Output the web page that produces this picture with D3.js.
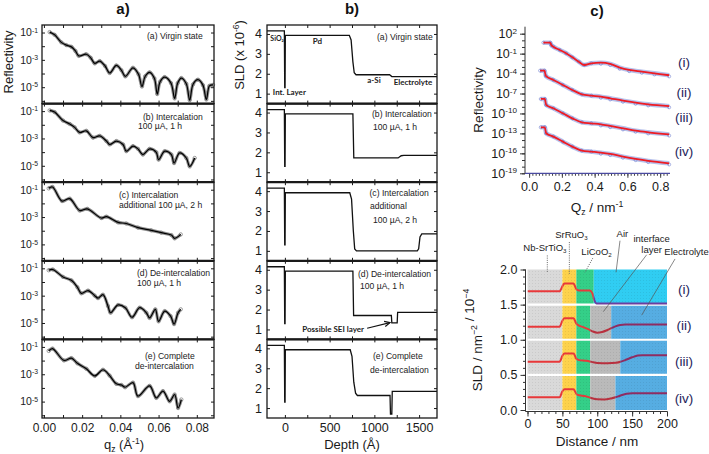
<!DOCTYPE html>
<html><head><meta charset="utf-8">
<script src="https://cdn.jsdelivr.net/npm/d3@7/dist/d3.min.js"></script>
<style>
html,body{margin:0;padding:0;background:#fff;}
svg{display:block;font-family:"Liberation Sans",Arial,sans-serif;}
</style></head><body>
<svg id="fig" width="709" height="454"></svg>
<script>
// ================= DATA =================
// Panel a: neutron reflectivity, [qz (1/A), log10 R]
const qzDomainA = [-0.001, 0.089];
const qzTicksA = [0, 0.01, 0.02, 0.03, 0.04, 0.05, 0.06, 0.07, 0.08];
const qzLabelsA = [0, 0.02, 0.04, 0.06, 0.08];
const reflDomainA = [-6.2, -0.45];
const reflDecadesA = [-6, -5, -4, -3, -2, -1];
const reflLabelDecadesA = [-1, -3, -5];
const reflVirgin = [[0.0030,-0.97],[0.0056,-1.17],[0.0091,-1.72],[0.0117,-1.92],[0.0144,-2.05],[0.0165,-2.35],[0.0182,-2.71],[0.0222,-2.59],[0.0245,-2.85],[0.0266,-3.26],[0.0292,-3.09],[0.0320,-3.45],[0.0344,-3.96],[0.0379,-3.41],[0.0405,-3.75],[0.0426,-4.21],[0.0466,-3.58],[0.0495,-4.05],[0.0513,-4.95],[0.0530,-4.2],[0.0553,-3.91],[0.0578,-4.35],[0.0593,-5.50],[0.0608,-4.6],[0.0632,-4.26],[0.0665,-4.7],[0.0684,-5.82],[0.0700,-4.7],[0.0719,-4.33],[0.0745,-4.75],[0.0763,-5.95],[0.0780,-4.8],[0.0806,-4.45],[0.0832,-4.85],[0.0850,-5.90],[0.0866,-4.9],[0.0885,-4.83]];
const reflInter1 = [[0.0030,-0.95],[0.0056,-1.07],[0.0100,-1.69],[0.0135,-1.94],[0.0161,-2.19],[0.0187,-2.56],[0.0222,-2.44],[0.0257,-2.94],[0.0292,-2.81],[0.0327,-3.19],[0.0344,-3.44],[0.0379,-3.19],[0.0414,-3.44],[0.0431,-3.93],[0.0466,-3.56],[0.0492,-3.76],[0.0518,-4.18],[0.0553,-3.76],[0.0588,-4.01],[0.0600,-4.55],[0.0632,-3.93],[0.0667,-4.18],[0.0681,-4.80],[0.0710,-4.06],[0.0745,-4.43],[0.0763,-5.05],[0.0789,-4.43]];
const reflInter2 = [[0.0025,-0.90],[0.0045,-0.80],[0.0095,-1.83],[0.0135,-1.65],[0.0187,-2.52],[0.0227,-2.40],[0.0300,-3.07],[0.0327,-2.97],[0.0388,-3.39],[0.0431,-3.47],[0.0492,-3.77],[0.0562,-3.97],[0.0614,-4.14],[0.0667,-4.32],[0.0684,-4.56],[0.0716,-4.27]];
const reflDeinter = [[0.0025,-1.14],[0.0047,-1.09],[0.0100,-1.63],[0.0144,-1.88],[0.0175,-2.38],[0.0196,-2.83],[0.0231,-2.63],[0.0266,-3.00],[0.0283,-3.18],[0.0309,-2.93],[0.0335,-3.75],[0.0349,-4.25],[0.0388,-3.68],[0.0426,-3.88],[0.0461,-4.58],[0.0501,-3.88],[0.0536,-4.25],[0.0553,-4.63],[0.0583,-4.00],[0.0600,-4.88],[0.0632,-4.13],[0.0663,-4.50],[0.0681,-5.08],[0.0702,-4.25],[0.0716,-4.00]];
const reflComplete = [[0.0025,-1.29],[0.0045,-1.12],[0.0105,-1.99],[0.0144,-1.82],[0.0175,-2.2],[0.0222,-2.6],[0.0266,-3.12],[0.0309,-2.67],[0.0344,-3.1],[0.0379,-3.7],[0.0405,-3.78],[0.0425,-3.95],[0.0466,-3.61],[0.0492,-4.60],[0.0553,-3.85],[0.0588,-4.73],[0.0623,-4.23],[0.0658,-4.98],[0.0684,-4.48],[0.0702,-5.47],[0.0719,-4.85]];
const statesA = [["(a) Virgin state"],["(b) Intercalation","100 µA, 1 h"],["(c) Intercalation","additional 100 µA, 2 h"],["(d) De-intercalation","100 µA, 1 h"],["(e) Complete","de-intercalation"]];

// Panel b: SLD profiles, [depth (A), SLD x1e-6]
const depthDomain = [-200, 1700];
const depthTicks = [0, 250, 500, 750, 1000, 1250, 1500];
const depthLabels = [0, 500, 1000, 1500];
const sldDomainB = [0.5, 4.45];
const sldTicksB = [1, 2, 3, 4];
const sldVirgin = [[-200,4.15],[-6,4.15],[-2,1.3],[2,1.3],[5,3.93],[720,3.93],[740,3.7],[760,2.6],[775,2.05],[795,1.95],[1170,1.95],[1195,1.86],[1700,1.86]];
const sldInter1 = [[-200,4.15],[-6,4.15],[-2,1.3],[2,1.3],[5,3.93],[760,3.93],[770,1.72],[1265,1.72],[1300,1.83],[1330,1.85],[1700,1.85]];
const sldInter2 = [[-200,4.15],[-6,4.15],[-2,1.3],[2,1.3],[5,3.92],[725,3.92],[745,3.6],[765,2.0],[780,1.1],[800,1.0],[1480,1.0],[1495,1.1],[1510,1.7],[1530,1.85],[1700,1.85]];
const sldDeinter = [[-200,4.15],[-6,4.15],[-2,1.3],[2,1.3],[5,3.93],[760,3.93],[768,1.70],[1190,1.70],[1195,1.33],[1255,1.33],[1260,1.86],[1700,1.86]];
const sldComplete = [[-200,4.15],[-6,4.15],[-2,1.3],[2,1.3],[5,3.93],[730,3.93],[750,3.6],[770,2.3],[790,1.75],[810,1.63],[1175,1.63],[1180,0.7],[1195,0.7],[1200,1.84],[1700,1.84]];
const statesB = [["(a) Virgin state"],["(b) Intercalation","100 µA, 1 h"],["(c) Intercalation","additional"," 100 µA, 2 h"],["(d) De-intercalation","100 µA, 1 h"],["(e) Complete","de-intercalation"]];
const layerNotesB = [["SiO₂",-87,3.78],["Pd",362,3.66],["Int. Layer",50,1.07],["a-Si",996,1.69],["Electrolyte",1431,1.6]];
const seiNote = {text:"Possible SEI layer", at:[539,1.01], from:[919,1.06], to:[1174,1.34]};

// Panel c (top): reflectivity, [Qz (1/nm), log10 R]
const qzDomainC = [-0.025, 0.86];
const qzLabelsC = [0, 0.2, 0.4, 0.6, 0.8];
const reflDomainC = [-19, 3.05];
const reflLabelDecadesC = [2, -1, -4, -7, -10, -13, -16, -19];
const curveNamesC = ["(i)", "(ii)", "(iii)", "(iv)"];
const reflI = [[0.087,0.65],[0.129,0.65],[0.135,0.3],[0.148,0.05],[0.187,-0.45],[0.226,-0.95],[0.264,-1.55],[0.303,-2.21],[0.337,-2.71],[0.380,-2.46],[0.438,-2.36],[0.495,-2.55],[0.553,-3.11],[0.611,-3.46],[0.688,-3.71],[0.765,-3.96],[0.855,-4.25]];
const reflII = [[0.067,-3.56],[0.094,-3.56],[0.102,-4.36],[0.148,-4.96],[0.206,-5.71],[0.264,-6.47],[0.322,-7.12],[0.380,-7.32],[0.438,-7.47],[0.495,-7.72],[0.573,-8.07],[0.650,-8.37],[0.727,-8.62],[0.855,-8.9]];
const reflIII = [[0.071,-7.82],[0.096,-7.82],[0.104,-8.72],[0.148,-9.22],[0.206,-9.97],[0.264,-10.73],[0.322,-11.33],[0.380,-11.48],[0.438,-11.63],[0.495,-11.88],[0.573,-12.23],[0.650,-12.58],[0.727,-12.83],[0.855,-13.15]];
const reflIV = [[0.071,-12.08],[0.096,-12.08],[0.104,-12.98],[0.148,-13.48],[0.206,-14.24],[0.264,-14.99],[0.322,-15.59],[0.380,-15.74],[0.438,-15.89],[0.495,-16.09],[0.573,-16.49],[0.650,-16.84],[0.727,-17.14],[0.855,-17.5]];
const labelLogC = [-2.3, -6.7, -10.55, -15.6];

// Panel c (bottom): SLD profiles, [distance (nm), SLD + offset]
const distTicks = [0, 50, 100, 150, 200];
const sldTicksD = [0, 0.5, 1.0, 1.5, 2.0];
const bandRanges = [[1.5,2.0],[1.0,1.5],[0.5,1.0],[0.0,0.5]];
const bandLayers = [
  [["sub",0,50],["sro",50,70],["lco",70,95],["air",95,200]],
  [["sub",0,50],["sro",50,70],["lco",70,90],["int",90,120],["ele",120,200]],
  [["sub",0,50],["sro",50,70],["lco",70,90],["int",90,133],["ele",133,200]],
  [["sub",0,50],["sro",50,70],["lco",70,90],["int",90,126],["ele",126,200]]];
const profI = [[0,1.69],[46,1.69],[50,1.76],[53,1.80],[66,1.80],[70,1.72],[74,1.70],[89,1.70],[93,1.66],[96,1.56],[99,1.515],[200,1.515]];
const profII = [[0,1.185],[46,1.185],[50,1.27],[53,1.305],[66,1.305],[70,1.23],[74,1.20],[80,1.18],[87,1.15],[93,1.12],[100,1.10],[107,1.11],[116,1.145],[126,1.19],[133,1.21],[140,1.218],[200,1.218]];
const profIII = [[0,0.687],[46,0.687],[50,0.77],[53,0.805],[66,0.805],[70,0.73],[74,0.71],[85,0.70],[92,0.685],[100,0.67],[115,0.665],[127,0.672],[140,0.71],[150,0.75],[158,0.775],[165,0.78],[200,0.78]];
const profIV = [[0,0.18],[46,0.18],[50,0.265],[53,0.295],[66,0.295],[70,0.23],[74,0.21],[82,0.20],[90,0.175],[100,0.152],[110,0.15],[120,0.165],[132,0.20],[142,0.232],[150,0.237],[200,0.237]];
const labelSldD = [1.72, 1.21, 0.70, 0.17];
const layerNotesD = [
  {t:[["Nb-SrTiO","3"]], at:[25,2.27], from:[28.4,2.20], to:[28.4,1.95], dot:true},
  {t:[["SrRuO","3"]], at:[63,2.45], from:[60,2.39], to:[60,1.94], dot:true},
  {t:[["LiCoO","2"]], at:[99,2.21], from:[93.5,2.16], to:[82.4,1.96], dot:true},
  {t:[["Air",""]], at:[136,2.46], from:[132.6,2.41], to:[126.9,1.96], dot:false},
  {t:[["interface",""],["layer",""]], at:[178,2.39], from:[170.9,2.21], to:[108.7,1.40], dot:false},
  {t:[["Electrolyte",""]], at:[228,2.20], from:[211.5,2.15], to:[163.7,1.35], dot:false}];

// ================= DRAWING =================
const svg = d3.select("#fig");
const INK = "#1a1a1a";

function sup(sel, parts) {
  sel.text(null);
  parts.forEach(([t,k]) => {
    const ts = sel.append("tspan").text(t);
    if (k === "sup") ts.attr("font-size","65%").attr("dy","-0.55em");
    if (k === "sub") ts.attr("font-size","65%").attr("dy","0.35em");
    if (k === "back") ts.attr("dy","0.35em");
    if (k === "back2") ts.attr("dy","-0.22em");
  });
}
function cleanAxis(g, color) {
  g.attr("font-family", null).attr("font-size", null);
  g.selectAll(".tick line").attr("stroke", color);
  g.selectAll(".domain").remove();
  g.selectAll(".tick text").attr("fill", INK);
}

[["a)",123],["b)",352],["c)",597]].forEach(([t,x],i)=>{
  svg.append("text").attr("x",x).attr("y",i<2?14:16).attr("text-anchor","middle")
    .attr("font-size",15).attr("font-weight","bold").attr("fill","#111").text(t);
});

// ---------- Panel a ----------
const PA = {x0:42, x1:214, top:25, bottom:418};
const subH = (PA.bottom - PA.top) / 5;
const xA = d3.scaleLinear().domain(qzDomainA).range([PA.x0, PA.x1]);
[reflVirgin, reflInter1, reflInter2, reflDeinter, reflComplete].forEach((data, i) => {
  const top = PA.top + i*subH, bot = top + subH;
  const y = d3.scaleLog().domain(reflDomainA.map(e => 10**e)).range([bot, top]);
  const g = svg.append("g");
  const line = d3.line().x(d => xA(d[0])).y(d => y(10**d[1])).curve(d3.curveCatmullRom.alpha(0.5));
  g.append("path").datum(data).attr("d", line).attr("fill","none").attr("stroke","#444").attr("stroke-width",3.2).attr("stroke-opacity",0.6);
  g.selectAll("circle").data(data).join("circle").attr("cx", d => xA(d[0])).attr("cy", d => y(10**d[1]))
    .attr("r",1.7).attr("fill","none").attr("stroke","#777").attr("stroke-width",0.7);
  g.append("path").datum(data).attr("d", line).attr("fill","none").attr("stroke","#000").attr("stroke-width",1.2);
  const decs = reflDecadesA.map(e => 10**e);
  const gl = g.append("g").attr("transform",`translate(${PA.x0},0)`)
    .call(d3.axisLeft(y).tickValues(decs).tickSizeInner(-3).tickSizeOuter(0).tickPadding(4)
      .tickFormat(d => reflLabelDecadesA.includes(Math.round(Math.log10(d))) ? "x" : ""));
  cleanAxis(gl, INK);
  gl.selectAll(".tick text").attr("font-size",10.5).each(function(d){
    if (d3.select(this).text() === "") return;
    sup(d3.select(this), [["10",""],[String(Math.round(Math.log10(d))),"sup"]]);
  });
  const gr = g.append("g").attr("transform",`translate(${PA.x1},0)`)
    .call(d3.axisRight(y).tickValues(decs).tickSizeInner(-3).tickSizeOuter(0).tickFormat(""));
  cleanAxis(gr, INK);
  const gt = g.append("g").attr("transform",`translate(0,${top})`)
    .call(d3.axisTop(xA).tickValues(qzTicksA).tickSizeInner(-3).tickSizeOuter(0).tickFormat(""));
  cleanAxis(gt, INK);
  const gb = g.append("g").attr("transform",`translate(0,${bot})`)
    .call(d3.axisBottom(xA).tickValues(qzTicksA).tickSizeInner(-3).tickSizeOuter(0).tickPadding(5)
      .tickFormat(d => (i === 4 && qzLabelsA.some(v => Math.abs(v-d) < 1e-9)) ? d3.format(".2f")(d) : ""));
  cleanAxis(gb, INK);
  gb.selectAll(".tick text").attr("font-size",12);
  g.append("rect").attr("x",PA.x0).attr("y",top).attr("width",PA.x1-PA.x0).attr("height",subH)
    .attr("fill","none").attr("stroke",INK).attr("stroke-width",1.3);
  if (i > 0) g.append("line").attr("x1",PA.x0).attr("x2",PA.x1).attr("y1",top).attr("y2",top).attr("stroke",INK).attr("stroke-width",2.2);
  const posA = [[[147,14]],[[143,16],[138,25.5]],[[119,16],[119,26]],[[137,15],[137,25]],[[145,20],[135,30]]];
  statesA[i].forEach((t,k) => {
    g.append("text").attr("x",posA[i][k][0]).attr("y",top+posA[i][k][1]).attr("font-size",8.6).attr("fill","#222").text(t);
  });
});
svg.append("text").attr("transform","translate(13,62) rotate(-90)").attr("text-anchor","middle")
  .attr("font-size",13).attr("fill",INK).text("Reflectivity");
sup(svg.append("text").attr("x",124).attr("y",449).attr("text-anchor","middle").attr("font-size",13).attr("fill",INK),
  [["q",""],["z","sub"],[" (Å","back2"],["-1","sup"],[")","back"]]);

// ---------- Panel b ----------
const PB = {x0:267, x1:437, top:25, bottom:418};
const xB = d3.scaleLinear().domain(depthDomain).range([PB.x0, PB.x1]);
[sldVirgin, sldInter1, sldInter2, sldDeinter, sldComplete].forEach((data, i) => {
  const top = PB.top + i*subH, bot = top + subH;
  const y = d3.scaleLinear().domain(sldDomainB).range([bot, top]);
  const g = svg.append("g");
  g.append("path").datum(data).attr("d", d3.line().x(d => xB(d[0])).y(d => y(d[1])))
    .attr("fill","none").attr("stroke","#111").attr("stroke-width",1.3);
  const gl = g.append("g").attr("transform",`translate(${PB.x0},0)`)
    .call(d3.axisLeft(y).tickValues(sldTicksB).tickSizeInner(-3).tickSizeOuter(0).tickPadding(5).tickFormat(d3.format("d")));
  cleanAxis(gl, INK); gl.selectAll(".tick text").attr("font-size",12.5);
  const gr = g.append("g").attr("transform",`translate(${PB.x1},0)`)
    .call(d3.axisRight(y).tickValues(sldTicksB).tickSizeInner(-3).tickSizeOuter(0).tickFormat(""));
  cleanAxis(gr, INK);
  const gt = g.append("g").attr("transform",`translate(0,${top})`)
    .call(d3.axisTop(xB).tickValues(depthTicks).tickSizeInner(-3).tickSizeOuter(0).tickFormat(""));
  cleanAxis(gt, INK);
  const gb = g.append("g").attr("transform",`translate(0,${bot})`)
    .call(d3.axisBottom(xB).tickValues(depthTicks).tickSizeInner(-3).tickSizeOuter(0).tickPadding(5)
      .tickFormat(d => (i === 4 && depthLabels.includes(d)) ? String(d) : ""));
  cleanAxis(gb, INK); gb.selectAll(".tick text").attr("font-size",12.5);
  g.append("rect").attr("x",PB.x0).attr("y",top).attr("width",PB.x1-PB.x0).attr("height",subH)
    .attr("fill","none").attr("stroke",INK).attr("stroke-width",1.3);
  if (i > 0) g.append("line").attr("x1",PB.x0).attr("x2",PB.x1).attr("y1",top).attr("y2",top).attr("stroke",INK).attr("stroke-width",2.2);
  const posB = [[[377,15]],[[372,13],[373,26.5]],[[369.5,13.5],[370,27],[373,41]],[[358,16],[360,28.5]],[[373,19.5],[370,34]]];
  statesB[i].forEach((t,k) => {
    g.append("text").attr("x",posB[i][k][0]).attr("y",top+posB[i][k][1]).attr("font-size",8.6).attr("fill","#222").text(t);
  });
  if (i === 0) {
    layerNotesB.forEach(([t,dx,v]) => {
      g.append("text").attr("x",xB(dx)).attr("y",y(v)+3).attr("text-anchor","middle")
        .attr("font-family","Lato, 'Open Sans', sans-serif").attr("font-weight","bold")
        .attr("font-size", t === "SiO₂" ? 7 : 8).attr("fill","#222").text(t);
    });
  }
  if (i === 3) {
    g.append("text").attr("x",xB(seiNote.at[0])).attr("y",y(seiNote.at[1])+3).attr("text-anchor","middle")
      .attr("font-family","Lato, 'Open Sans', sans-serif").attr("font-weight","bold").attr("font-size",8).attr("fill","#222").text(seiNote.text);
    const x1 = xB(seiNote.from[0]), y1 = y(seiNote.from[1]), x2 = xB(seiNote.to[0]), y2 = y(seiNote.to[1]);
    g.append("line").attr("x1",x1).attr("y1",y1).attr("x2",x2).attr("y2",y2).attr("stroke","#111").attr("stroke-width",1.2);
    const ang = Math.atan2(y2-y1, x2-x1), L = 6, w = 0.45;
    g.append("path").attr("d",`M${x2-L*Math.cos(ang-w)},${y2-L*Math.sin(ang-w)} L${x2},${y2} L${x2-L*Math.cos(ang+w)},${y2-L*Math.sin(ang+w)}`)
      .attr("fill","none").attr("stroke","#111").attr("stroke-width",1.2);
  }
});
sup(svg.append("text").attr("transform","translate(244,55) rotate(-90)").attr("text-anchor","middle").attr("font-size",13).attr("fill",INK),
  [["SLD (x 10",""],["-6","sup"],[")","back"]]);
svg.append("text").attr("x",352).attr("y",449).attr("text-anchor","middle").attr("font-size",13).attr("fill",INK).text("Depth (Å)");

// ---------- Panel c (top) ----------
const PC = {x0:525, x1:670, top:26.7, bottom:173.3};
const xC = d3.scaleLinear().domain(qzDomainC).range([PC.x0, PC.x1]);
const yC = d3.scaleLog().domain(reflDomainC.map(e => 10**e)).range([PC.bottom, PC.top]);
const gC = svg.append("g");
const lineC = d3.line().x(d => xC(d[0])).y(d => yC(10**d[1])).curve(d3.curveMonotoneX);
[reflI, reflII, reflIII, reflIV].forEach((data, i) => {
  gC.append("path").datum(data).attr("d", lineC).attr("fill","none").attr("stroke","#7083d8").attr("stroke-width",4.5).attr("stroke-opacity",0.5);
  gC.append("g").selectAll("circle").data(data).join("circle").attr("cx", d => xC(d[0])).attr("cy", d => yC(10**d[1]) + (d[0] > 0.4 ? 1.2 : 0))
    .attr("r",1.5).attr("fill","none").attr("stroke","#6677cc").attr("stroke-width",0.7).attr("stroke-opacity",0.8);
  gC.append("path").datum(data).attr("d", lineC).attr("fill","none").attr("stroke","#ee1c24").attr("stroke-width",1.8);
  gC.append("text").attr("x",684).attr("y",yC(10**labelLogC[i])+5).attr("text-anchor","middle").attr("font-size",13.5).attr("fill","#1e1e5a").text(curveNamesC[i]);
});
{
  const allDec = d3.range(-19, 3).map(e => 10**e);
  const g1 = gC.append("g").attr("transform",`translate(${PC.x0},0)`)
    .call(d3.axisLeft(yC).tickValues(allDec).tickSize(3).tickFormat(""));
  cleanAxis(g1, "#333");
  const g2 = gC.append("g").attr("transform",`translate(${PC.x0},0)`)
    .call(d3.axisLeft(yC).tickValues(reflLabelDecadesC.map(e => 10**e)).tickSize(5).tickPadding(3).tickFormat(d => "x"));
  cleanAxis(g2, "#333");
  g2.selectAll(".tick text").attr("font-size",12.5).each(function(d){
    sup(d3.select(this), [["10",""],[String(Math.round(Math.log10(d))),"sup"]]);
  });
  gC.append("line").attr("x1",PC.x0).attr("x2",PC.x0).attr("y1",PC.top).attr("y2",PC.bottom).attr("stroke","#333").attr("stroke-width",1);
  const g3 = gC.append("g").attr("transform",`translate(0,${PC.bottom})`)
    .call(d3.axisBottom(xC).tickValues(d3.range(0, 43).map(k => k*0.02)).tickSize(2.5).tickFormat(""));
  cleanAxis(g3, "#444");
  const g4 = gC.append("g").attr("transform",`translate(0,${PC.bottom})`)
    .call(d3.axisBottom(xC).tickValues(qzLabelsC).tickSize(4.5).tickPadding(4).tickFormat(d3.format(".1f")));
  cleanAxis(g4, "#444"); g4.selectAll(".tick text").attr("font-size",12.5);
  gC.append("line").attr("x1",PC.x0).attr("x2",PC.x1).attr("y1",PC.bottom).attr("y2",PC.bottom).attr("stroke","#4a4aa0").attr("stroke-width",1.2);
}
svg.append("text").attr("transform","translate(483,100) rotate(-90)").attr("text-anchor","middle").attr("font-size",13.5).attr("fill",INK).text("Reflectivity");
sup(svg.append("text").attr("x",597).attr("y",212).attr("text-anchor","middle").attr("font-size",13.5).attr("fill",INK),
  [["Q",""],["z","sub"],[" / nm","back2"],["-1","sup"]]);

// ---------- Panel c (bottom) ----------
const PD = {x0:527.5, x1:667, y0:410, y2:269.5};
const xD = d3.scaleLinear().domain([0,200]).range([PD.x0, PD.x1]);
const yD = d3.scaleLinear().domain([0,2]).range([PD.y0, PD.y2]);
const layerFill = {sub:"#d9d9d9", sro:"#fdd24c", lco:"#34cf88", air:"#30cdf2", int:"#bababa", ele:"#56ade2"};
const lineColor = {sub:"#e8383a", sro:"#e8383a", lco:"#e63a3c", air:"#6b3fa0", int:"#b8303e", ele:"#8e2c62"};
const defs = svg.append("defs");
const pat = defs.append("pattern").attr("id","dots").attr("width",3).attr("height",3).attr("patternUnits","userSpaceOnUse");
pat.append("rect").attr("x",1).attr("y",1).attr("width",1).attr("height",1).attr("fill","rgba(0,0,0,0.07)");
const gD = svg.append("g");
bandLayers.forEach((layers, b) => {
  const [lo, hi] = bandRanges[b];
  layers.forEach(([k, a, z], j) => {
    gD.append("rect").attr("x", xD(a)).attr("y", yD(hi)).attr("width", xD(z)-xD(a)).attr("height", yD(lo)-yD(hi)).attr("fill", layerFill[k]);
    defs.append("clipPath").attr("id",`cl${b}_${j}`).append("rect")
      .attr("x", xD(a)).attr("y", yD(hi)-6).attr("width", xD(z)-xD(a)).attr("height", yD(lo)-yD(hi)+12);
  });
});
gD.append("rect").attr("x",PD.x0).attr("y",PD.y2).attr("width",PD.x1-PD.x0).attr("height",PD.y0-PD.y2).attr("fill","url(#dots)");
[0.5,1.0,1.5].forEach(v => gD.append("line").attr("x1",PD.x0).attr("x2",PD.x1).attr("y1",yD(v)).attr("y2",yD(v)).attr("stroke","#fff").attr("stroke-width",2.2));
const lineD = d3.line().x(d => xD(d[0])).y(d => yD(d[1])).curve(d3.curveMonotoneX);
[profI, profII, profIII, profIV].forEach((prof, b) => {
  bandLayers[b].forEach(([k], j) => {
    gD.append("path").datum(prof).attr("d", lineD).attr("fill","none").attr("stroke", lineColor[k])
      .attr("stroke-width",2).attr("clip-path",`url(#cl${b}_${j})`);
  });
  gD.append("text").attr("x",684).attr("y",yD(labelSldD[b])+5).attr("text-anchor","middle").attr("font-size",13.5).attr("fill","#1e1e5a").text(curveNamesC[b]);
});
{
  const g1 = gD.append("g").attr("transform",`translate(${PD.x0-2},0)`)
    .call(d3.axisLeft(yD).tickValues(d3.range(0,21).map(k => k*0.1)).tickSize(2.5).tickFormat(""));
  cleanAxis(g1, "#333");
  const g2 = gD.append("g").attr("transform",`translate(${PD.x0-2},0)`)
    .call(d3.axisLeft(yD).tickValues(sldTicksD).tickSize(5).tickPadding(3).tickFormat(d3.format(".1f")));
  cleanAxis(g2, "#333"); g2.selectAll(".tick text").attr("font-size",12.5);
  gD.append("line").attr("x1",PD.x0-2).attr("x2",PD.x0-2).attr("y1",PD.y2).attr("y2",PD.y0+1.5).attr("stroke","#333");
  const g3 = gD.append("g").attr("transform",`translate(0,${PD.y0+1.5})`)
    .call(d3.axisBottom(xD).tickValues(d3.range(0,21).map(k => k*10)).tickSize(2.5).tickFormat(""));
  cleanAxis(g3, "#333");
  const g4 = gD.append("g").attr("transform",`translate(0,${PD.y0+1.5})`)
    .call(d3.axisBottom(xD).tickValues(distTicks).tickSize(5).tickPadding(3).tickFormat(d3.format("d")));
  cleanAxis(g4, "#333"); g4.selectAll(".tick text").attr("font-size",12.5);
  gD.append("line").attr("x1",PD.x0-2).attr("x2",PD.x1).attr("y1",PD.y0+1.5).attr("y2",PD.y0+1.5).attr("stroke","#333");
}
layerNotesD.forEach(n => {
  gD.append("line").attr("x1",xD(n.from[0])).attr("y1",yD(n.from[1])).attr("x2",xD(n.to[0])).attr("y2",yD(n.to[1]))
    .attr("stroke", n.dot ? "#666" : "#555").attr("stroke-width", n.dot ? 1 : 0.7).attr("stroke-dasharray", n.dot ? "1,1.2" : null);
  n.t.forEach(([base, sub], k) => {
    const t = gD.append("text").attr("x",xD(n.at[0])).attr("y",yD(n.at[1]) + k*10.5).attr("text-anchor","middle").attr("font-size",9.5).attr("fill","#222");
    if (sub) sup(t, [[base,""],[sub,"sub"]]); else t.text(base);
  });
});
sup(svg.append("text").attr("transform","translate(482,340) rotate(-90)").attr("text-anchor","middle").attr("font-size",13.5).attr("fill",INK),
  [["SLD / nm",""],["−2","sup"],[" / 10","back2"],["−4","sup"]]);
svg.append("text").attr("x",597).attr("y",446).attr("text-anchor","middle").attr("font-size",13.5).attr("fill",INK).text("Distance / nm");
</script>
</body></html>
